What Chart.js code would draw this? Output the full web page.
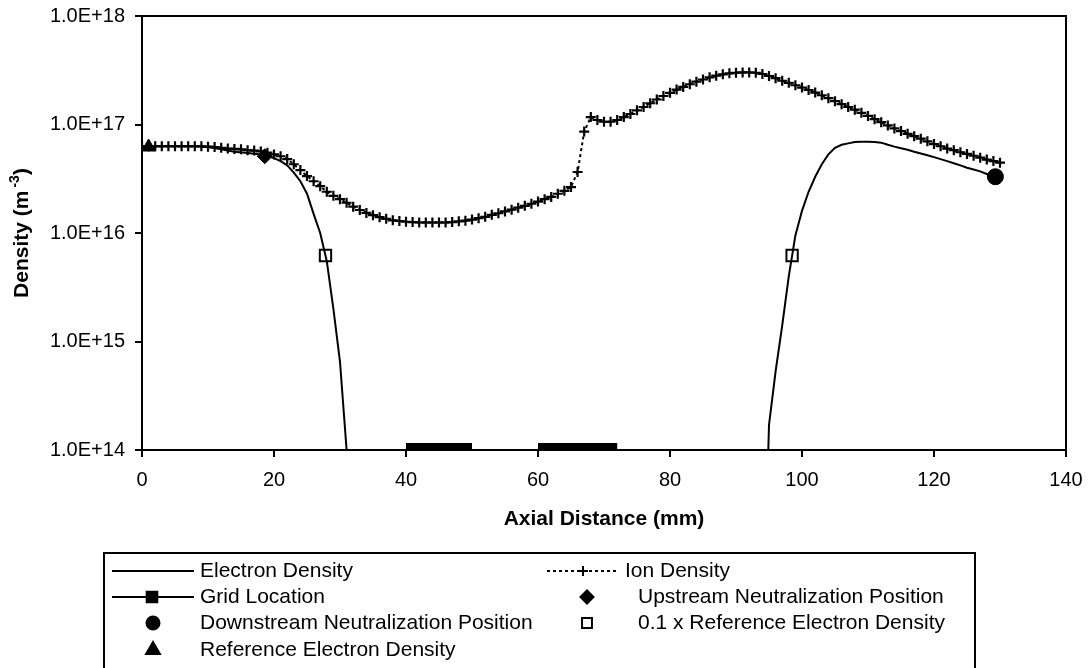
<!DOCTYPE html>
<html>
<head>
<meta charset="utf-8">
<script src="https://cdn.jsdelivr.net/npm/chart.js@4"></script>
<style>
  html, body { margin: 0; padding: 0; background: #fff; }
  #wrap { width: 1088px; height: 668px; position: relative; }
</style>
</head>
<body>
<div id="wrap"><canvas id="chartDensity"></canvas></div>
<script>
// axial positions (mm) and densities (m^-3)
const ionX = [
  0, 1, 2, 3, 4, 5, 6, 7, 8, 9, 10, 11, 12, 13, 14, 15, 16, 17, 18, 19,
  20, 21, 22, 23, 24, 25, 26, 27, 28, 29, 30, 31, 32, 33, 34, 35, 36, 37, 38, 39,
  40, 41, 42, 43, 44, 45, 46, 47, 48, 49, 50, 51, 52, 53, 54, 55, 56, 57, 58, 59,
  60, 61, 62, 63, 64, 65, 66, 67, 68, 69, 70, 71, 72, 73, 74, 75, 76, 77, 78, 79,
  80, 81, 82, 83, 84, 85, 86, 87, 88, 89, 90, 91, 92, 93, 94, 95, 96, 97, 98, 99,
  100, 101, 102, 103, 104, 105, 106, 107, 108, 109, 110, 111, 112, 113, 114, 115, 116, 117, 118, 119,
  120, 121, 122, 123, 124, 125, 126, 127, 128, 129, 130
];
const ionY = [
  6.3e16, 6.3e16, 6.3e16, 6.3e16, 6.3e16, 6.3e16, 6.3e16, 6.3e16, 6.3e16, 6.3e16,
  6.25e16, 6.2e16, 6.1e16, 6.0e16, 5.95e16, 5.9e16, 5.8e16, 5.75e16, 5.65e16, 5.5e16,
  5.3e16, 5.1e16, 4.8e16, 4.3e16, 3.8e16, 3.35e16, 3.0e16, 2.7e16, 2.4e16, 2.2e16,
  2.05e16, 1.9e16, 1.75e16, 1.63e16, 1.53e16, 1.46e16, 1.4e16, 1.35e16, 1.31e16, 1.29e16,
  1.27e16, 1.26e16, 1.25e16, 1.25e16, 1.25e16, 1.25e16, 1.25e16, 1.26e16, 1.28e16, 1.3e16,
  1.33e16, 1.37e16, 1.41e16, 1.47e16, 1.52e16, 1.58e16, 1.64e16, 1.71e16, 1.78e16, 1.86e16,
  1.95e16, 2.05e16, 2.15e16, 2.3e16, 2.45e16, 2.65e16, 3.65e16, 8.6e16, 1.17e17, 1.1e17,
  1.06e17, 1.06e17, 1.1e17, 1.17e17, 1.25e17, 1.35e17, 1.45e17, 1.57e17, 1.7e17, 1.83e17,
  1.96e17, 2.1e17, 2.22e17, 2.35e17, 2.48e17, 2.6e17, 2.72e17, 2.82e17, 2.9e17, 2.96e17,
  3.0e17, 3.02e17, 3.02e17, 3.0e17, 2.92e17, 2.8e17, 2.67e17, 2.53e17, 2.42e17, 2.3e17,
  2.19e17, 2.08e17, 1.97e17, 1.86e17, 1.75e17, 1.64e17, 1.54e17, 1.45e17, 1.37e17, 1.28e17,
  1.2e17, 1.12e17, 1.05e17, 9.8e16, 9.2e16, 8.7e16, 8.2e16, 7.8e16, 7.4e16, 7.0e16,
  6.6e16, 6.3e16, 6.0e16, 5.8e16, 5.55e16, 5.35e16, 5.15e16, 4.95e16, 4.75e16, 4.6e16,
  4.45e16
];

const elecX = [
  0, 2, 4, 6, 8, 10, 12, 14, 16, 18, 19, 20, 21, 22, 23, 24, 25, 26, 27, 28, 29, 30, 31, 32,
  94, 95, 96, 97, 98, 99, 100, 101, 102, 103, 104, 105, 106, 107, 108, 109, 110, 111, 112,
  113, 114, 115, 116, 117, 118, 119, 120, 121, 122, 123, 124, 125, 126, 127, 128, 129
];
const elecY = [
  6.3e16, 6.3e16, 6.3e16, 6.3e16, 6.3e16, 6.2e16, 5.9e16, 5.6e16, 5.45e16, 5.3e16, 5.15e16,
  4.9e16, 4.6e16, 4.2e16, 3.6e16, 3.0e16, 2.3e16, 1.5e16, 1.0e16, 5.5e15, 2.0e15, 6.5e14,
  1.0e14, 1.0e12,
  1.0e12, 1.7e14, 5.3e14, 1.4e15, 4.0e15, 9.5e15, 1.6e16, 2.4e16, 3.3e16, 4.3e16, 5.3e16,
  6.1e16, 6.5e16, 6.7e16, 6.9e16, 6.95e16, 6.95e16, 6.9e16, 6.8e16, 6.5e16, 6.25e16,
  6.05e16, 5.85e16, 5.6e16, 5.4e16, 5.2e16, 5.0e16, 4.8e16, 4.6e16, 4.4e16, 4.2e16,
  4.0e16, 3.85e16, 3.7e16, 3.5e16, 3.3e16
];

// grid electrodes sit on the lower edge of the plot
const gridX = [40, 50, null, 60, 72];
const gridY = 1e14;

const upstreamX = [18.6],  upstreamY = [5.1e16];
const downstreamX = [129.3], downstreamY = [3.3e16];
const refTenthX = [27.8, 98.5], refTenthY = [6.2e15, 6.2e15];
const refX = [1], refY = [6.2e16];

const xTicks = [0, 20, 40, 60, 80, 100, 120, 140];
const yDecades = [14, 15, 16, 17, 18];

const FONT = "'Liberation Sans', Arial, sans-serif";

const pts = (xs, ys) => xs.map((x, i) => ({ x: x === null ? 55 : x, y: x === null ? null : (Array.isArray(ys) ? ys[i] : ys) }));

const datasets = [
  {
    label: 'Electron Density',
    data: pts(elecX, elecY),
    borderColor: '#000', borderWidth: 2, pointRadius: 0, tension: 0
  },
  {
    label: 'Ion Density',
    data: pts(ionX, ionY),
    borderColor: '#000', borderWidth: 2, borderDash: [3, 3],
    pointStyle: 'cross', pointRadius: 5, pointBorderWidth: 2.2, pointBorderColor: '#000'
  },
  {
    label: 'Grid Location',
    data: pts(gridX, gridY),
    borderColor: '#000', borderWidth: 14, borderCapStyle: 'butt',
    pointRadius: 0, spanGaps: false, legendStyle: 'rect', legendRadius: 7.5
  },
  {
    label: 'Upstream Neutralization Position',
    data: pts(upstreamX, upstreamY), showLine: false,
    pointStyle: 'rectRot', pointRadius: 7.5, pointBorderWidth: 1,
    pointBackgroundColor: '#000', pointBorderColor: '#000', legendRadius: 6.5
  },
  {
    label: 'Downstream Neutralization Position',
    data: pts(downstreamX, downstreamY), showLine: false,
    pointStyle: 'circle', pointRadius: 8, pointBorderWidth: 1,
    pointBackgroundColor: '#000', pointBorderColor: '#000', legendRadius: 6.5
  },
  {
    label: '0.1 x Reference Electron Density',
    data: pts(refTenthX, refTenthY), showLine: false,
    pointStyle: 'rect', pointRadius: 8, pointBorderWidth: 2,
    pointBackgroundColor: 'rgba(0,0,0,0)', pointBorderColor: '#000', legendRadius: 7
  },
  {
    label: 'Reference Electron Density',
    data: pts(refX, refY), showLine: false,
    pointStyle: 'triangle', pointRadius: 8, pointBorderWidth: 1,
    pointBackgroundColor: '#000', pointBorderColor: '#000', legendRadius: 8
  }
];

// frame, axis titles and the boxed legend under the plot
const decorations = {
  id: 'decorations',
  afterDraw(chart) {
    const { ctx, chartArea: a } = chart;
    const H = Chart.helpers;
    ctx.save();
    ctx.strokeStyle = '#000';
    ctx.lineWidth = 2;
    ctx.strokeRect(a.left, a.top, a.right - a.left, a.bottom - a.top);

    ctx.fillStyle = '#000';
    ctx.textBaseline = 'middle';
    ctx.textAlign = 'center';
    ctx.font = 'bold 21px ' + FONT;
    ctx.fillText('Axial Distance (mm)', (a.left + a.right) / 2, 519);

    // y title with superscript exponent
    ctx.save();
    ctx.translate(22, (a.top + a.bottom) / 2);
    ctx.rotate(-Math.PI / 2);
    const main = 'Density (m', sup = '-3', tail = ')';
    ctx.font = 'bold 21px ' + FONT;
    const wMain = ctx.measureText(main).width, wTail = ctx.measureText(tail).width;
    ctx.font = 'bold 14px ' + FONT;
    const wSup = ctx.measureText(sup).width;
    let x0 = -(wMain + wSup + wTail + 3) / 2;
    ctx.textAlign = 'left';
    ctx.font = 'bold 21px ' + FONT;
    ctx.fillText(main, x0, 0);
    ctx.font = 'bold 14px ' + FONT;
    ctx.fillText(sup, x0 + wMain + 3, -7);
    ctx.font = 'bold 21px ' + FONT;
    ctx.fillText(tail, x0 + wMain + wSup + 3, 0);
    ctx.restore();

    // legend box
    ctx.lineWidth = 2;
    ctx.strokeRect(104, 553, 871, 130);
    ctx.font = '21px ' + FONT;
    ctx.textAlign = 'left';
    const ds = chart.data.datasets;
    const rows = [571, 597, 623, 650];

    const marker = (d, x, y) => {
      ctx.save();
      ctx.fillStyle = d.pointBackgroundColor || '#000';
      ctx.strokeStyle = '#000';
      H.drawPoint(ctx, {
        pointStyle: d.legendStyle || d.pointStyle,
        radius: d.legendRadius || d.pointRadius,
        borderWidth: d.pointBorderWidth || 1,
        rotation: 0
      }, x, y);
      ctx.restore();
    };
    const sample = (d, x1, x2, y, mx) => {
      ctx.save();
      ctx.strokeStyle = '#000';
      ctx.lineWidth = 2;
      if (d.borderDash) ctx.setLineDash(d.borderDash);
      ctx.beginPath(); ctx.moveTo(x1, y); ctx.lineTo(x2, y); ctx.stroke();
      ctx.restore();
      if (mx !== undefined) marker(d, mx, y);
    };

    // left column
    sample(ds[0], 112, 194, rows[0]);
    ctx.fillText(ds[0].label, 200, rows[0]);
    sample(ds[2], 112, 194, rows[1], 152);
    ctx.fillText(ds[2].label, 200, rows[1]);
    marker(ds[4], 153, rows[2]);
    ctx.fillText(ds[4].label, 200, rows[2]);
    marker(ds[6], 153, rows[3]);
    ctx.fillText(ds[6].label, 200, rows[3]);
    // right column
    sample(ds[1], 547, 619, rows[0], 583);
    ctx.fillText(ds[1].label, 625, rows[0]);
    marker(ds[3], 587, rows[1]);
    ctx.fillText(ds[3].label, 638, rows[1]);
    marker(ds[5], 587, rows[2]);
    ctx.fillText(ds[5].label, 638, rows[2]);
    ctx.restore();
  }
};

new Chart(document.getElementById('chartDensity'), {
  type: 'line',
  data: { datasets },
  options: {
    responsive: true,
    maintainAspectRatio: false,
    animation: false,
    layout: { padding: { left: 0, top: 16, right: 22, bottom: 158 } },
    plugins: { legend: { display: false }, tooltip: { enabled: false } },
    scales: {
      x: {
        type: 'linear', min: 0, max: 140,
        // fixed box so the plot frame lands at the same place regardless of label widths
        afterFit: s => { s.height = 60; s.paddingLeft = 0; s.paddingRight = 0; },
        afterBuildTicks: s => { s.ticks = xTicks.map(v => ({ value: v })); },
        grid: { drawOnChartArea: false, drawTicks: true, tickLength: 7, color: '#000', lineWidth: 2 },
        border: { display: true, color: '#000', width: 2 },
        ticks: { color: '#000', padding: 11, maxRotation: 0, font: { family: FONT, size: 20 } }
      },
      y: {
        type: 'logarithmic', min: 1e14, max: 1e18,
        afterFit: s => { s.width = 142; s.paddingTop = 0; s.paddingBottom = 0; },
        afterBuildTicks: s => { s.ticks = yDecades.map(e => ({ value: Math.pow(10, e) })); },
        grid: { drawOnChartArea: false, drawTicks: true, tickLength: 7, color: '#000', lineWidth: 2 },
        border: { display: true, color: '#000', width: 2 },
        ticks: {
          color: '#000', padding: 10, font: { family: FONT, size: 20 },
          callback: v => Number(v).toExponential(1).toUpperCase()
        }
      }
    }
  },
  plugins: [decorations]
});
</script>
</body>
</html>
